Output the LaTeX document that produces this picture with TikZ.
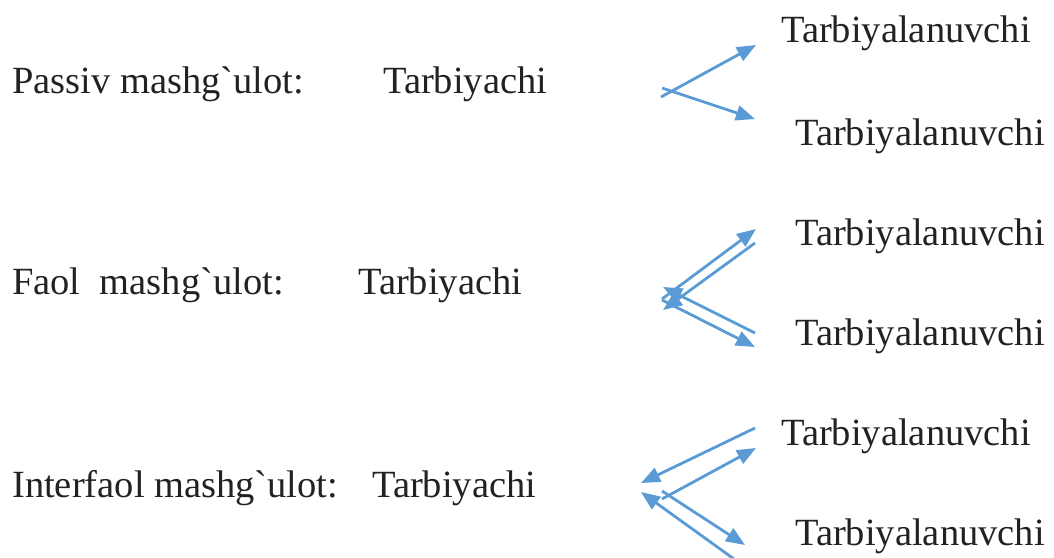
\documentclass[tikz,border=0pt]{standalone}
\usepackage{fontspec}
\setmainfont{Liberation Serif}[Ligatures=TeXOff]
\usetikzlibrary{arrows.meta}
\definecolor{arrblue}{RGB}{91,155,213}
\definecolor{txt}{RGB}{34,34,34}
\tikzset{
  lbl/.style={anchor=base west, inner sep=0pt, text=txt, font=\fontsize{38.5}{46}\selectfont},
  arr/.style={draw=arrblue, line width=2.8pt, -{Triangle[length=19pt,width=15pt]}}
}
\begin{document}
\begin{tikzpicture}[x=1pt,y=-1pt]
\useasboundingbox (0,0) rectangle (1054,557);
% texts
\node[lbl] (l1) at (12,93) {Passiv mashg`ulot:};
\node[lbl] (t1) at (383,93) {Tarbiyachi};
\node[lbl] (r1a) at (781,42) {Tarbiyalanuvchi};
\node[lbl] (r1b) at (795,145) {Tarbiyalanuvchi};
\node[lbl] (l2) at (12,294) {Faol\ \ mashg`ulot:};
\node[lbl] (t2) at (358,294) {Tarbiyachi};
\node[lbl] (r2a) at (795,245) {Tarbiyalanuvchi};
\node[lbl] (r2b) at (795,345) {Tarbiyalanuvchi};
\node[lbl] (l3) at (12,497) {Interfaol mashg`ulot:};
\node[lbl] (t3) at (372,497) {Tarbiyachi};
\node[lbl] (r3a) at (781,445) {Tarbiyalanuvchi};
\node[lbl] (r3b) at (795,545) {Tarbiyalanuvchi};
% arrow points, row 1
\coordinate (a1s) at (661,97);
\coordinate (a1e) at (756,45);
\coordinate (a2s) at (662,88);
\coordinate (a2e) at (755,119);
\draw[arr] (a1s) -- (a1e);
\draw[arr] (a2s) -- (a2e);
% row 2
\coordinate (b1s) at (662,299);
\coordinate (b1e) at (756,229);
\coordinate (b2s) at (755,243);
\coordinate (b2e) at (663,310);
\coordinate (c1s) at (662,300);
\coordinate (c1e) at (755,347);
\coordinate (c2s) at (755,333);
\coordinate (c2e) at (663,287);
\draw[arr] (b1s) -- (b1e);
\draw[arr] (b2s) -- (b2e);
\draw[arr] (c1s) -- (c1e);
\draw[arr] (c2s) -- (c2e);
% row 3
\coordinate (e1s) at (755,428);
\coordinate (e1e) at (641,483);
\coordinate (f1s) at (662,499);
\coordinate (f1e) at (756,448);
\coordinate (g1s) at (662,491);
\coordinate (g1e) at (745,545);
\coordinate (h1s) at (734,559);
\coordinate (h1e) at (641,492);
\draw[arr] (e1s) -- (e1e);
\draw[arr] (f1s) -- (f1e);
\draw[arr] (g1s) -- (g1e);
\draw[arr] (h1s) -- (h1e);
\end{tikzpicture}
\end{document}
